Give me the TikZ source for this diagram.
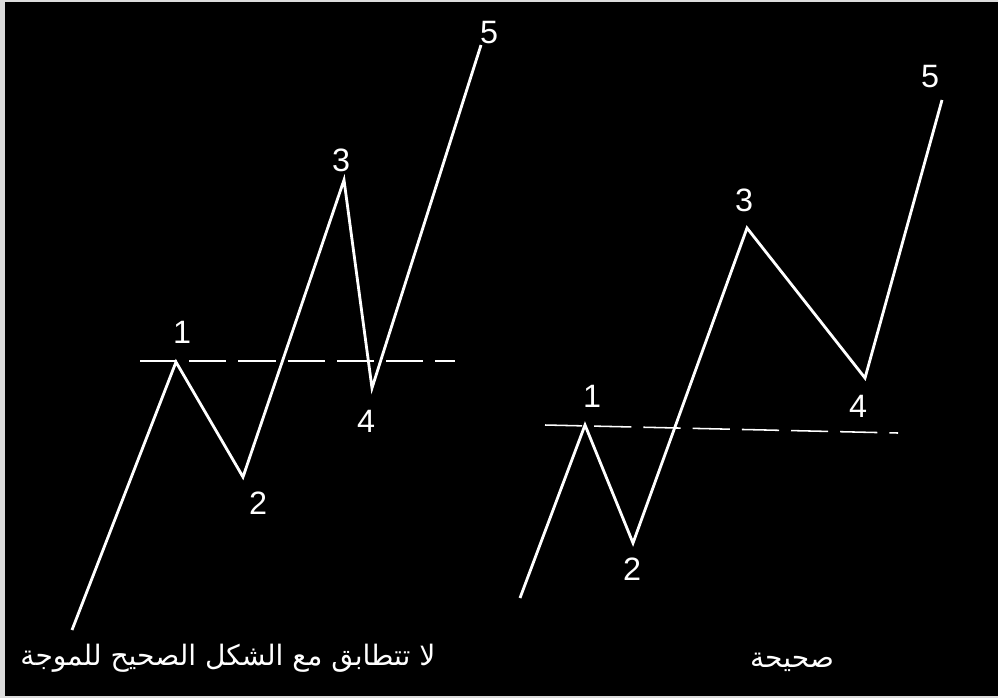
\documentclass[tikz,border=0pt]{standalone}
\usepackage{fontspec}
\setmainfont{Liberation Sans}
\newfontfamily\arabicfont[Script=Arabic]{DejaVu Sans}
\TeXXeTstate=1
\usetikzlibrary{positioning}
\definecolor{frgrey}{HTML}{DCDCDC}
\tikzset{
  wave/.style    ={draw=white, line width=2pt, line join=miter},
  level/.style   ={draw=white, line width=1.1pt, dash pattern=on 0.93cm off 0.3cm},
  num/.style     ={text=white, font=\fontsize{23}{23}\selectfont, inner sep=0pt},
  caption/.style ={text=white, font=\arabicfont\fontsize{20}{22}\selectfont, inner sep=0pt}
}
\begin{document}
\begin{tikzpicture}[x=0.025cm, y=-0.025cm]
  % frame and background
  \fill[frgrey] (0,0) rectangle (998,698);
  \fill[black] (5,2) rectangle (998,696);

  % left wave (wrong)
  \coordinate (a0) at (72,630);
  \coordinate (a1) at (176,362);
  \coordinate (a2) at (243,477);
  \coordinate (a3) at (344,180);
  \coordinate (a4) at (372,388);
  \coordinate (a5) at (481,45);
  \coordinate (al) at (140,361);
  \coordinate (ar) at (455,361);
  \draw[level] (al) -- (ar);
  \draw[wave] (a0) -- (a1) -- (a2) -- (a3) -- (a4) -- (a5);
  \node[num] (la1) at (182,332) {1};
  \node[num] (la2) at (258,503) {2};
  \node[num] (la3) at (341,160) {3};
  \node[num] (la4) at (366,421) {4};
  \node[num] (la5) at (489,33) {5};
  \node[caption] (ta) at (228,658) {\beginR لا تتطابق مع الشكل الصحيح للموجة\endR};

  % right wave (correct)
  \coordinate (b0) at (520,598);
  \coordinate (b1) at (585,425);
  \coordinate (b2) at (633,543);
  \coordinate (b3) at (747,228);
  \coordinate (b4) at (865,378);
  \coordinate (b5) at (942,100);
  \coordinate (bl) at (545,425);
  \coordinate (br) at (898,433);
  \draw[level] (bl) -- (br);
  \draw[wave] (b0) -- (b1) -- (b2) -- (b3) -- (b4) -- (b5);
  \node[num] (lb1) at (592,396) {1};
  \node[num] (lb2) at (632,569) {2};
  \node[num] (lb3) at (744,200) {3};
  \node[num] (lb4) at (858,406) {4};
  \node[num] (lb5) at (930,77) {5};
  \node[caption] (tb) at (792,662) {\beginR صحيحة\endR};
\end{tikzpicture}
\end{document}
